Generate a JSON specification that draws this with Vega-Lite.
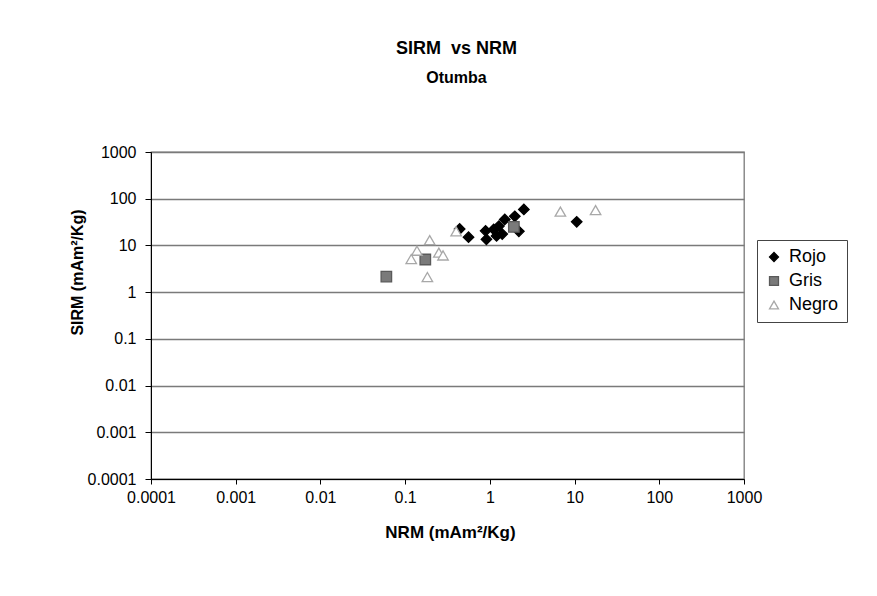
{
  "$schema": "https://vega.github.io/schema/vega-lite/v6.json",
  "width": 593,
  "height": 327,
  "autosize": {"type": "none"},
  "padding": {"left": 151, "top": 152, "right": 133, "bottom": 117},
  "background": "white",
  "title": {
    "text": "SIRM\u00a0 vs NRM",
    "subtitle": "Otumba",
    "font": "Liberation Sans",
    "fontSize": 18,
    "fontWeight": "bold",
    "subtitleFont": "Liberation Sans",
    "subtitleFontSize": 16,
    "subtitleFontWeight": "bold",
    "subtitleColor": "black",
    "subtitlePadding": 12,
    "color": "black",
    "anchor": "middle",
    "offset": 58,
    "dx": 9
  },
  "data": {
    "values": [
      {"serie": "Rojo", "nrm": 2.52, "sirm": 59},
      {"serie": "Rojo", "nrm": 1.97, "sirm": 42},
      {"serie": "Rojo", "nrm": 1.5, "sirm": 36},
      {"serie": "Rojo", "nrm": 10.6, "sirm": 32},
      {"serie": "Rojo", "nrm": 0.44, "sirm": 22.5},
      {"serie": "Rojo", "nrm": 0.56, "sirm": 15},
      {"serie": "Rojo", "nrm": 0.89, "sirm": 20.5},
      {"serie": "Rojo", "nrm": 0.91, "sirm": 13.5},
      {"serie": "Rojo", "nrm": 1.11, "sirm": 22},
      {"serie": "Rojo", "nrm": 1.28, "sirm": 26},
      {"serie": "Rojo", "nrm": 1.4, "sirm": 17.5},
      {"serie": "Rojo", "nrm": 1.2, "sirm": 16},
      {"serie": "Rojo", "nrm": 2.2, "sirm": 20},
      {"serie": "Gris", "nrm": 1.92, "sirm": 25},
      {"serie": "Gris", "nrm": 0.173, "sirm": 5.0},
      {"serie": "Gris", "nrm": 0.06, "sirm": 2.15},
      {"serie": "Negro", "nrm": 0.4, "sirm": 20},
      {"serie": "Negro", "nrm": 0.195, "sirm": 13},
      {"serie": "Negro", "nrm": 0.138, "sirm": 7.7},
      {"serie": "Negro", "nrm": 0.118, "sirm": 5.1},
      {"serie": "Negro", "nrm": 0.25, "sirm": 7},
      {"serie": "Negro", "nrm": 0.28, "sirm": 6.1},
      {"serie": "Negro", "nrm": 0.183, "sirm": 2.1},
      {"serie": "Negro", "nrm": 6.8, "sirm": 53},
      {"serie": "Negro", "nrm": 17.7, "sirm": 57}
    ]
  },
  "mark": {"type": "point", "filled": false, "strokeWidth": 1.3, "opacity": 1},
  "encoding": {
    "x": {
      "field": "nrm",
      "type": "quantitative",
      "scale": {"type": "log", "domain": [0.0001, 1000], "nice": false},
      "axis": {
        "title": "NRM (mAm²/Kg)",
        "values": [0.0001, 0.001, 0.01, 0.1, 1, 10, 100, 1000],
        "format": "~g",
        "grid": false,
        "labelFlush": false,
        "labelOverlap": false,
        "domainColor": "black",
        "tickColor": "black",
        "tickSize": 5,
        "labelFont": "Liberation Sans",
        "labelFontSize": 16,
        "labelColor": "black",
        "labelPadding": 5,
        "titleFont": "Liberation Sans",
        "titleFontSize": 17,
        "titleFontWeight": "bold",
        "titleColor": "black",
        "titleX": 299,
        "titleY": 53,
        "titleAlign": "center",
        "titleBaseline": "middle"
      }
    },
    "y": {
      "field": "sirm",
      "type": "quantitative",
      "scale": {"type": "log", "domain": [0.0001, 1000], "nice": false},
      "axis": {
        "title": "SIRM (mAm²/Kg)",
        "values": [0.0001, 0.001, 0.01, 0.1, 1, 10, 100, 1000],
        "format": "~g",
        "grid": true,
        "labelFlush": false,
        "labelOverlap": false,
        "gridColor": "#7a7a7a",
        "gridWidth": 1.3,
        "domainColor": "black",
        "tickColor": "black",
        "tickSize": 6,
        "labelFont": "Liberation Sans",
        "labelFontSize": 16,
        "labelColor": "black",
        "labelPadding": 9,
        "titleFont": "Liberation Sans",
        "titleFontSize": 16,
        "titleFontWeight": "bold",
        "titleColor": "black",
        "titleX": -74,
        "titleY": 120,
        "titleAngle": -90,
        "titleAlign": "center",
        "titleBaseline": "middle"
      }
    },
    "shape": {
      "field": "serie",
      "type": "nominal",
      "scale": {"domain": ["Rojo", "Gris", "Negro"], "range": ["diamond", "square", "triangle-up"]},
      "legend": {
        "title": null,
        "orient": "none",
        "legendX": 606,
        "legendY": 88,
        "strokeColor": "#444",
        "padding": 8,
        "labelFont": "Liberation Sans",
        "labelFontSize": 18,
        "labelColor": "black",
        "labelOffset": 6,
        "rowPadding": 6,
        "symbolSize": 80,
        "symbolStrokeWidth": 1.3
      }
    },
    "fill": {
      "field": "serie",
      "type": "nominal",
      "scale": {"domain": ["Rojo", "Gris", "Negro"], "range": ["black", "#7a7a7a", "white"]},
      "legend": null
    },
    "stroke": {
      "field": "serie",
      "type": "nominal",
      "scale": {"domain": ["Rojo", "Gris", "Negro"], "range": ["black", "#5a5a5a", "#a8a8a8"]},
      "legend": null
    },
    "size": {"value": 110}
  },
  "config": {
    "view": {"stroke": "#7a7a7a", "strokeWidth": 1.3}
  }
}
